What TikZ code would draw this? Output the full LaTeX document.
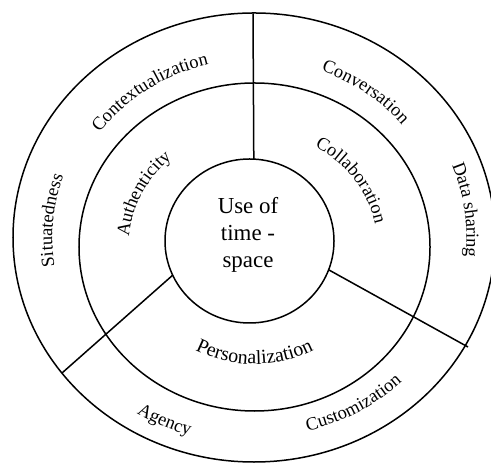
\documentclass[tikz,border=0pt]{standalone}
\usepackage{fontspec}
\setmainfont{Liberation Serif}
\usetikzlibrary{shapes.geometric,decorations.text}

\newcommand\ringfont{\fontsize{18.5}{20}\selectfont}
\newcommand\bigringfont{\fontsize{20}{22}\selectfont}

\begin{document}
\begin{tikzpicture}
  [x=1bp,y=1bp,line width=1.5bp,
   core/.style={ellipse,draw,minimum width=169bp,minimum height=164bp,inner sep=0pt,outer sep=0pt},
   ringtext/.style={decorate,decoration={text along path,text align=center,text={|\ringfont|#1}}}]

  \useasboundingbox (0,0) rectangle (491,466);
  \clip (0,0) rectangle (491,466);

  % centres of the two rings
  \coordinate (O) at (254,228.5);
  \coordinate (M) at (254.5,219);

  \node[core] (core) at (249.5,225) {};
  \node[align=center,font=\fontsize{23}{27}\selectfont] (usetext) at (248,231.3) {Use of\\time -\\space};

  \draw (O) ellipse [x radius=241bp,y radius=224.5bp];
  \draw (M) ellipse [x radius=175.5bp,y radius=164bp];

  % dividers
  \coordinate (top) at (253,452.5);
  \coordinate (left) at (62,93);
  \coordinate (right) at (468,119);
  \foreach \from/\to in {core.87/top,core.204/left,core.-20/right}
    \draw (\from) -- (\to);

  % outer ring
  \path[ringtext=Contextualization] (O) ++(185:191.1bp and 178bp)
    arc[start angle=185,end angle=65,x radius=191.1bp,y radius=178bp];
  \path[ringtext=Conversation] (O) ++(113:191.1bp and 178bp)
    arc[start angle=113,end angle=-7,x radius=191.1bp,y radius=178bp];
  \path[ringtext=Data sharing] (O) ++(60:212.5bp and 198bp)
    arc[start angle=60,end angle=-45,x radius=212.5bp,y radius=198bp];
  \path[ringtext=Situatedness] (O) ++(230:201.7bp and 187.9bp)
    arc[start angle=230,end angle=120,x radius=201.7bp,y radius=187.9bp];
  \path[ringtext=Agency] (O) ++(205:222bp and 206.8bp)
    arc[start angle=205,end angle=285,x radius=222bp,y radius=206.8bp];
  \path[ringtext=Customization] (O) ++(250:214.5bp and 199.8bp)
    arc[start angle=250,end angle=350,x radius=214.5bp,y radius=199.8bp];

  % middle ring
  \path[ringtext=Authenticity] (M) ++(214:126bp and 118bp)
    arc[start angle=214,end angle=94,x radius=126bp,y radius=118bp];
  \path[ringtext=Collaboration] (M) ++(95:123bp and 115bp)
    arc[start angle=95,end angle=-25,x radius=123bp,y radius=115bp];
  \path[decorate,decoration={text along path,text align=center,text={|\bigringfont|Personalization}}]
    (M) ++(210:125.1bp and 117bp)
    arc[start angle=210,end angle=330,x radius=125.1bp,y radius=117bp];
\end{tikzpicture}
\end{document}
